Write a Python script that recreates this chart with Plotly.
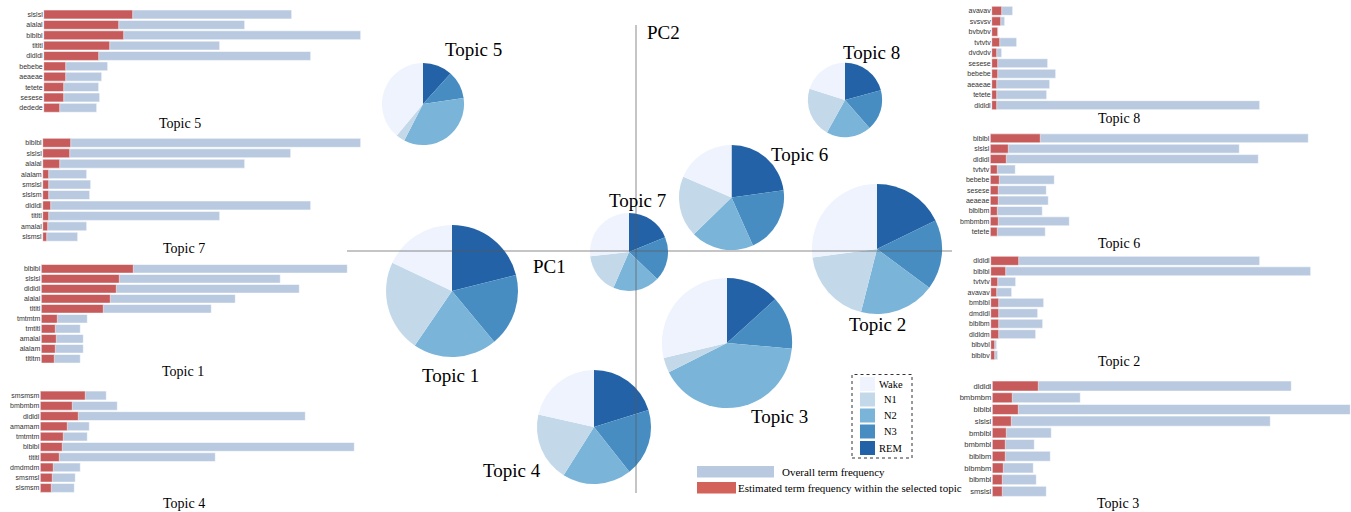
import plotly.graph_objects as go

W, H = 1351, 512

# ---------------- data ----------------
stages = ["Wake", "N1", "N2", "N3", "REM"]
stage_colors = ["#eef3fd", "#c3d9e9", "#7bb4d9", "#478dc2", "#2462a7"]

topics = ["Topic 1", "Topic 2", "Topic 3", "Topic 4", "Topic 5", "Topic 6", "Topic 7", "Topic 8"]
pc1 = [-1.84, 2.41, 0.91, -0.42, -2.13, 0.955, -0.07, 2.09]
pc2 = [-0.40, 0.02, -0.92, -1.76, 1.47, 0.535, -0.01, 1.51]
topic_share = [18.6, 18.1, 18.1, 13.9, 7.2, 11.8, 6.5, 5.9]

wake = [0.180, 0.271, 0.287, 0.215, 0.390, 0.185, 0.268, 0.201]
n1 = [0.225, 0.190, 0.037, 0.196, 0.035, 0.188, 0.167, 0.218]
n2 = [0.206, 0.188, 0.412, 0.196, 0.349, 0.194, 0.194, 0.195]
n3 = [0.179, 0.174, 0.131, 0.192, 0.110, 0.205, 0.184, 0.177]
rem = [0.211, 0.178, 0.133, 0.202, 0.117, 0.228, 0.188, 0.208]

t5_terms = ["slslsl", "alalal", "blblbl", "tltltl", "dldldl", "bebebe", "aeaeae", "tetete", "sesese", "dedede"]
t5_overall = [248, 201, 317, 176, 267, 64, 58, 55, 56, 53]
t5_topic = [89, 75, 80, 66, 55, 22, 22, 20, 20, 16]

t7_terms = ["blblbl", "slslsl", "alalal", "alalam", "smslsl", "slslsm", "dldldl", "tltltl", "amalal", "slsmsl"]
t7_overall = [318, 248, 202, 44, 48, 47, 268, 177, 44, 35]
t7_topic = [28, 27, 17, 6, 6, 6, 8, 6, 5, 4]

t1_terms = ["blblbl", "slslsl", "dldldl", "alalal", "tltltl", "tmtmtm", "tmtltl", "amalal", "alalam", "tltltm"]
t1_overall = [306, 239, 258, 194, 170, 46, 39, 42, 42, 39]
t1_topic = [92, 78, 75, 69, 62, 16, 14, 15, 14, 13]

t4_terms = ["smsmsm", "bmbmbm", "dldldl", "amamam", "tmtmtm", "blblbl", "tltltl", "dmdmdm", "smsmsl", "slsmsm"]
t4_overall = [66, 77, 265, 49, 47, 314, 175, 40, 35, 34]
t4_topic = [45, 32, 38, 27, 23, 22, 19, 13, 12, 11]

t8_terms = ["avavav", "svsvsv", "bvbvbv", "tvtvtv", "dvdvdv", "sesese", "bebebe", "aeaeae", "tetete", "dldldl"]
t8_overall = [21, 13, 6.5, 25, 10, 56, 64, 58, 55, 268]
t8_topic = [10, 9, 6, 8, 5, 6, 6, 5, 5, 5]

t6_terms = ["blblbl", "slslsl", "dldldl", "tvtvtv", "bebebe", "sesese", "aeaeae", "blblbm", "bmbmbm", "tetete"]
t6_overall = [318, 249, 268, 25, 64, 56, 58, 52, 79, 55]
t6_topic = [50, 18, 16, 7, 9, 8, 8, 7, 8, 7]

t2_terms = ["dldldl", "blblbl", "tvtvtv", "avavav", "bmblbl", "dmdldl", "blblbm", "dldldm", "blbvbl", "blblbv"]
t2_overall = [269, 320, 25, 21, 53, 47, 52, 45, 6, 7]
t2_topic = [28, 15, 7, 6, 8, 8, 8, 8, 4, 4]

t3_terms = ["dldldl", "bmbmbm", "blblbl", "slslsl", "bmblbl", "bmbmbl", "blblbm", "blbmbm", "blbmbl", "smslsl"]
t3_overall = [299, 88, 358, 278, 59, 42, 58, 41, 44, 54]
t3_topic = [46, 20, 26, 19, 14, 13, 13, 11, 10, 10]

# ---------------- layout geometry (pixels) ----------------
BLUE = "#b8c9e0"
RED = "#c75a5a"
SERIF = "Liberation Serif, Times New Roman, serif"
SANS = "Liberation Sans, Arial, sans-serif"


def fx(x):
    return x / W


def fy(y):
    return 1 - y / H


panels = [
    # terms, overall, topic, baseline x, top y, bottom y, title, title pos, font size
    (t5_terms, t5_overall, t5_topic, 43.7, 9.3, 113.0, "Topic 5", (180, 123), 7),
    (t7_terms, t7_overall, t7_topic, 42.7, 137.6, 242.0, "Topic 7", (184, 248), 7),
    (t1_terms, t1_overall, t1_topic, 41.3, 263.8, 363.8, "Topic 1", (183, 371), 7),
    (t4_terms, t4_overall, t4_topic, 40.3, 390.4, 493.1, "Topic 4", (184, 503), 7),
    (t8_terms, t8_overall, t8_topic, 991.7, 5.6, 110.4, "Topic 8", (1119, 118), 7),
    (t6_terms, t6_overall, t6_topic, 990.3, 133.1, 236.9, "Topic 6", (1119, 243), 7),
    (t2_terms, t2_overall, t2_topic, 990.7, 255.6, 360.4, "Topic 2", (1119, 361), 7),
    (t3_terms, t3_overall, t3_topic, 992.3, 380.2, 497.2, "Topic 3", (1118, 503), 7.6),
]

fig = go.Figure()
annotations = []
shapes = []
layout_axes = {}

for i, (terms, overall, est, bx, ty, by, title, tpos, fs) in enumerate(panels):
    k = i + 1
    xname = "x" if k == 1 else f"x{k}"
    yname = "y" if k == 1 else f"y{k}"
    x1 = min(bx + 360, W)
    fig.add_trace(go.Bar(orientation="h", y=terms, x=overall, xaxis=xname, yaxis=yname,
                         marker=dict(color=BLUE, line=dict(color="rgba(255,255,255,0.7)", width=0.8)),
                         showlegend=False, hoverinfo="x+y"))
    fig.add_trace(go.Bar(orientation="h", y=terms, x=est, xaxis=xname, yaxis=yname,
                         marker=dict(color=RED, line=dict(color="rgba(255,255,255,0.7)", width=0.8)),
                         showlegend=False, hoverinfo="x+y"))
    xa = "xaxis" if k == 1 else f"xaxis{k}"
    ya = "yaxis" if k == 1 else f"yaxis{k}"
    layout_axes[xa] = dict(domain=[fx(bx), fx(x1)], range=[0, x1 - bx], visible=False,
                           anchor=yname, fixedrange=True)
    layout_axes[ya] = dict(domain=[fy(by), fy(ty)], autorange="reversed", type="category",
                           anchor=xname, showgrid=False, zeroline=False, showline=False,
                           ticks="", tickfont=dict(family=SANS, size=fs, color="#333333"),
                           fixedrange=True)
    annotations.append(dict(text=title, x=fx(tpos[0]), y=fy(tpos[1]), xref="paper", yref="paper",
                            showarrow=False, xanchor="center", yanchor="middle",
                            font=dict(family=SERIF, size=14, color="black")))

# map axes (PC1 / PC2), 100 px per unit, origin at (636, 251)
OX, OY, SCALE = 636, 251, 100.0
MX0, MX1, MY0, MY1 = 347, 952, 25, 493
layout_axes["xaxis9"] = dict(domain=[fx(MX0), fx(MX1)],
                             range=[(MX0 - OX) / SCALE, (MX1 - OX) / SCALE],
                             visible=False, anchor="y9", fixedrange=True)
layout_axes["yaxis9"] = dict(domain=[fy(MY1), fy(MY0)],
                             range=[(OY - MY1) / SCALE, (OY - MY0) / SCALE],
                             visible=False, anchor="x9", fixedrange=True)
fig.add_trace(go.Scatter(x=[0], y=[0], xaxis="x9", yaxis="y9", mode="markers",
                         marker=dict(opacity=0), showlegend=False, hoverinfo="skip"))

K_RADIUS = 15.3
for j, t in enumerate(topics):
    cx = OX + pc1[j] * SCALE
    cy = OY - pc2[j] * SCALE
    r = K_RADIUS * topic_share[j] ** 0.5
    fig.add_trace(go.Pie(
        labels=stages[::-1],
        values=[rem[j], n3[j], n2[j], n1[j], wake[j]],
        marker=dict(colors=stage_colors[::-1], line=dict(width=0)),
        sort=False, direction="clockwise", rotation=0,
        textinfo="none", showlegend=False, name=t,
        domain=dict(x=[fx(cx - r), fx(cx + r)], y=[fy(cy + r), fy(cy - r)]),
    ))

# PC axes lines drawn above pies
line_style = dict(color="rgba(90,90,90,0.35)", width=2)
shapes.append(dict(type="line", xref="x9", yref="y9", x0=(MX0 - OX) / SCALE, x1=(MX1 - OX) / SCALE,
                   y0=0, y1=0, line=line_style, layer="above"))
shapes.append(dict(type="line", xref="x9", yref="y9", x0=0, x1=0,
                   y0=(OY - MY1) / SCALE, y1=(OY - MY0) / SCALE, line=line_style, layer="above"))

map_labels = [
    ("Topic 5", 474, 49), ("Topic 7", 637, 200), ("PC2", 663, 32), ("PC1", 549, 266),
    ("Topic 8", 871, 52), ("Topic 6", 799, 154), ("Topic 2", 877, 324), ("Topic 1", 450, 375),
    ("Topic 4", 512, 470), ("Topic 3", 779, 416),
]
for txt, x, y in map_labels:
    annotations.append(dict(text=txt, x=fx(x), y=fy(y), xref="paper", yref="paper", showarrow=False,
                            xanchor="center", yanchor="middle",
                            font=dict(family=SERIF, size=19, color="black")))

# sleep-stage legend
shapes.append(dict(type="rect", xref="paper", yref="paper", x0=fx(852), x1=fx(912), y0=fy(458), y1=fy(374.5),
                   line=dict(color="#333333", width=1, dash="dot"), fillcolor="rgba(0,0,0,0)"))
rows = [(377, 391), (392.5, 406.5), (408.5, 422.5), (424.5, 438.5), (441, 455)]
for s, c, (y0, y1) in zip(stages, stage_colors, rows):
    shapes.append(dict(type="rect", xref="paper", yref="paper", x0=fx(860), x1=fx(875),
                       y0=fy(y1), y1=fy(y0), line=dict(width=0), fillcolor=c))
    annotations.append(dict(text=s, x=fx(890.5), y=fy((y0 + y1) / 2), xref="paper", yref="paper",
                            showarrow=False, xanchor="center", yanchor="middle",
                            font=dict(family=SERIF, size=10.5, color="black")))

# bar legend
shapes.append(dict(type="rect", xref="paper", yref="paper", x0=fx(697), x1=fx(774), y0=fy(477.5), y1=fy(466),
                   line=dict(width=0), fillcolor=BLUE))
shapes.append(dict(type="rect", xref="paper", yref="paper", x0=fx(697), x1=fx(736), y0=fy(493.5), y1=fy(482),
                   line=dict(width=0), fillcolor="#d3625b"))
annotations.append(dict(text="Overall term frequency", x=fx(780), y=fy(471.5), xref="paper", yref="paper",
                        showarrow=False, xanchor="left", yanchor="middle",
                        font=dict(family=SERIF, size=11, color="black")))
annotations.append(dict(text="Estimated term frequency within the selected topic", x=fx(736),
                        y=fy(488), xref="paper", yref="paper", showarrow=False, xanchor="left",
                        yanchor="middle", font=dict(family=SERIF, size=11, color="black")))

fig.update_layout(
    width=W, height=H, margin=dict(l=0, r=0, t=0, b=0),
    paper_bgcolor="white", plot_bgcolor="rgba(0,0,0,0)",
    barmode="overlay", bargap=0.14,
    annotations=annotations, shapes=shapes,
    **layout_axes,
)

fig.write_html("out.html", post_script="document.body.style.margin='0';",
               config={"displayModeBar": False})
